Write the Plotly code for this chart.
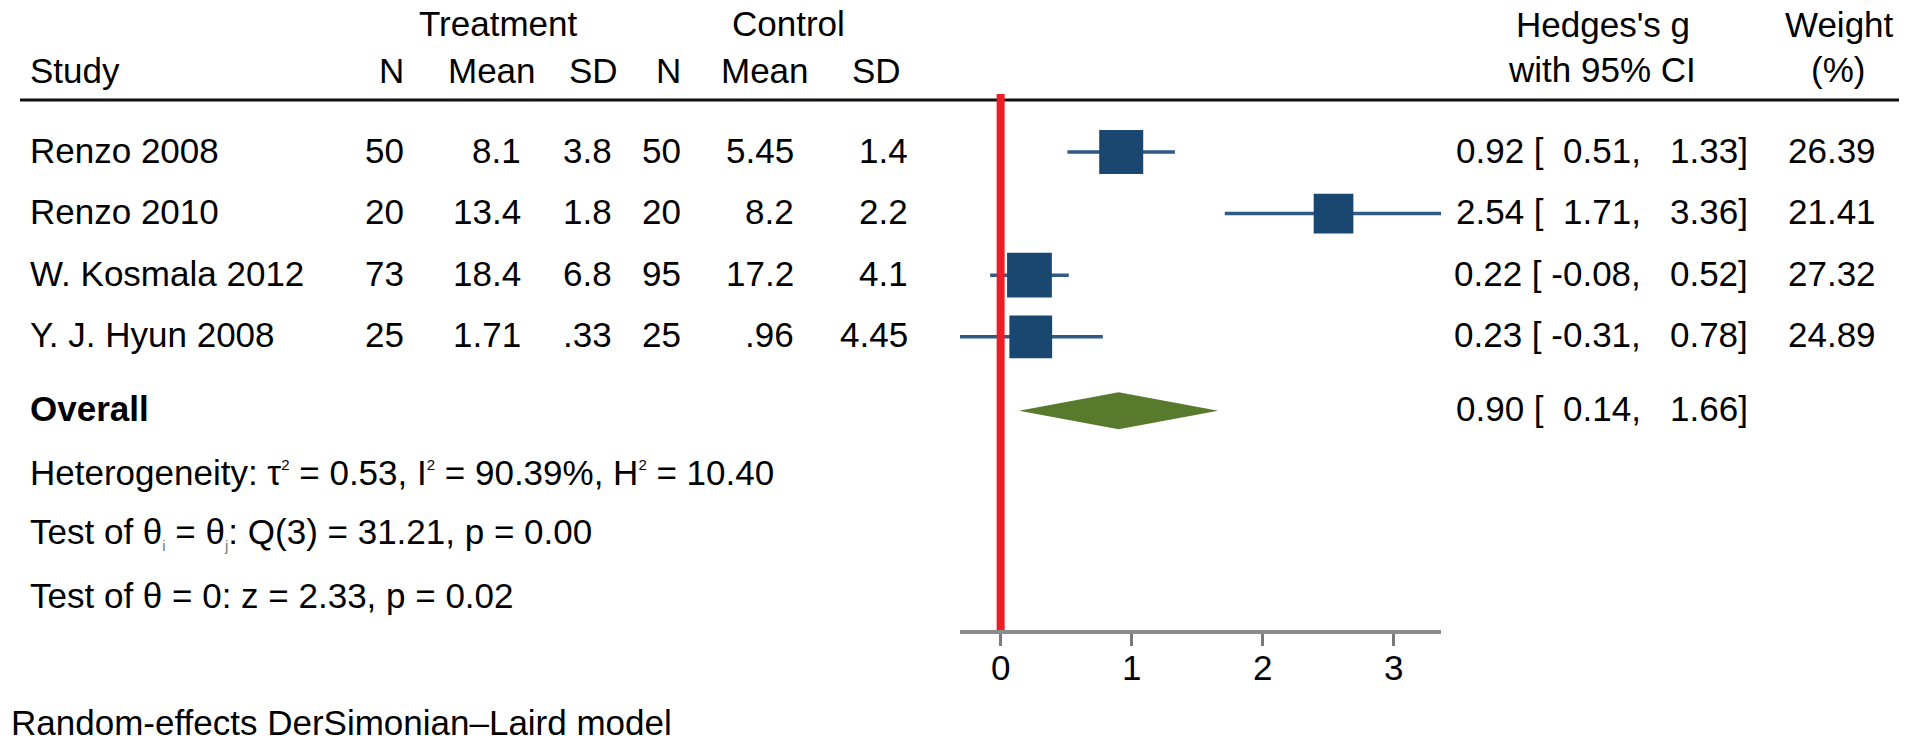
import plotly.graph_objects as go
import numpy as np

# study-level data
studies = ["Renzo 2008", "Renzo 2010", "W. Kosmala 2012", "Y. J. Hyun 2008"]
n_treat = ["50", "20", "73", "25"]
mean_treat = ["8.1", "13.4", "18.4", "1.71"]
sd_treat = ["3.8", "1.8", "6.8", ".33"]
n_ctrl = ["50", "20", "95", "25"]
mean_ctrl = ["5.45", "8.2", "17.2", ".96"]
sd_ctrl = ["1.4", "2.2", "4.1", "4.45"]
g_est = [0.92, 2.54, 0.22, 0.23]
g_lo = [0.51, 1.71, -0.08, -0.31]
g_hi = [1.33, 3.36, 0.52, 0.78]
weights = [26.39, 21.41, 27.32, 24.89]

# pooled result and heterogeneity statistics
overall_est = 0.90
overall_lo = 0.14
overall_hi = 1.66
tau2 = 0.53
i2 = 90.39
h2 = 10.40
q_df = 3
q_stat = 31.21
q_p = 0.00
z_stat = 2.33
z_p = 0.02

x_ticks = [0, 1, 2, 3]

FONT = "Liberation Sans, Arial, sans-serif"
FS = 35
TXT = "#000000"
NAVY = "#1a476f"
CI_COL = "#2f5c85"
GREEN = "#587a2c"
RED = "#ee1c25"

W, H = 1907, 736
PL, PR, PT, PB = 952, 1433, 86, 622   # plot area in pixels
ROW0, ROWH = 144, 61.6                 # pixel y of first study row, row spacing
DY = -2                                # small lift so cap centres sit on the rows


def px(x):
    # page pixel -> paper x
    return (x - PL) / (PR - PL)


def py(y):
    # page pixel -> paper y
    return (PB - y) / (PB - PT)


def row_y(r):
    # row number -> paper y
    return py(ROW0 + ROWH * r + DY)


nb = "\u00a0"
rows = list(range(len(studies)))
row_overall = 4.2
row_het = 5.23
row_qtest = 6.22
row_ztest = 7.24

fig = go.Figure()

# confidence interval lines
ci_x, ci_y = [], []
for r, lo, hi in zip(rows, g_lo, g_hi):
    ci_x += [lo, hi, None]
    ci_y += [r, r, None]
fig.add_trace(go.Scatter(x=ci_x, y=ci_y, mode="lines",
                         line=dict(color=CI_COL, width=3.5), hoverinfo="skip"))

# weight squares, area proportional to weight
sizes = 8.57 * np.sqrt(np.array(weights))
fig.add_trace(go.Scatter(x=g_est, y=rows, mode="markers",
                         marker=dict(symbol="square", size=sizes, color=NAVY,
                                     opacity=1, line=dict(width=0))))

# overall diamond
dh = 0.30
fig.add_trace(go.Scatter(x=[overall_lo, overall_est, overall_hi, overall_est, overall_lo],
                         y=[row_overall, row_overall - dh, row_overall, row_overall + dh, row_overall],
                         mode="lines", fill="toself", fillcolor=GREEN,
                         line=dict(color=GREEN, width=0)))

annotations = []


def txt(x, y, text, anchor="left", bold=False):
    # x in page pixels, y in paper units
    annotations.append(dict(xref="paper", yref="paper", x=px(x), y=y, text=text,
                            xanchor=anchor, yanchor="middle", showarrow=False,
                            font=dict(family=FONT, size=FS, color=TXT,
                                      weight="bold" if bold else "normal")))


# column headers
hy1, hy2 = py(16), py(64 + DY)
txt(490, hy1, "Treatment", "center")
txt(780, hy1, "Control", "center")
txt(20, hy2, "Study")
txt(398, hy2, "N", "right")
txt(530, hy2, "Mean", "right")
txt(612, hy2, "SD", "right")
txt(675, hy2, "N", "right")
txt(803, hy2, "Mean", "right")
txt(895, hy2, "SD", "right")
txt(1595, py(17), "Hedges's g", "center")
txt(1594, py(63 + DY), "with 95% CI", "center")
txt(1831, py(17), "Weight", "center")
txt(1830, py(63 + DY), "(%)", "center")

# study rows
for i, r in enumerate(rows):
    y = row_y(r)
    txt(20, y, studies[i])
    txt(398, y, n_treat[i], "right")
    txt(515, y, mean_treat[i], "right")
    txt(606, y, sd_treat[i], "right")
    txt(675, y, n_ctrl[i], "right")
    txt(788, y, mean_ctrl[i], "right")
    txt(902, y, sd_ctrl[i], "right")
    ci = f"{g_est[i]:.2f} [{g_lo[i]:6.2f}, {g_hi[i]:6.2f}]".replace(" ", nb)
    txt(1742, y, ci, "right")
    txt(1870, y, f"{weights[i]:.2f}", "right")

# overall row and statistics
txt(20, row_y(row_overall), "Overall", bold=True)
ci = f"{overall_est:.2f} [{overall_lo:6.2f}, {overall_hi:6.2f}]".replace(" ", nb)
txt(1742, row_y(row_overall), ci, "right")

sup2 = "<sup><span style='font-size:15px'>2</span></sup>"
txt(20, row_y(row_het), f"Heterogeneity: \u03c4{sup2} = {tau2:.2f}, I{sup2} = {i2:.2f}%, "
                        f"H{sup2} = {h2:.2f}")
sub_i = "<sub><span style='font-size:15px;color:#777'>i</span></sub>"
sub_j = "<sub><span style='font-size:15px;color:#777'>j</span></sub>"
txt(20, row_y(row_qtest),
    f"Test of \u03b8{sub_i} = \u03b8{sub_j}: Q({q_df}) = {q_stat:.2f}, p = {q_p:.2f}")
txt(20, row_y(row_ztest), f"Test of \u03b8 = 0: z = {z_stat:.2f}, p = {z_p:.2f}")

# footnote
txt(1, py(714), "Random-effects DerSimonian\u2013Laird model")

shapes = [
    # header rule
    dict(type="line", xref="paper", yref="paper", x0=px(12), x1=px(1907),
         y0=py(92), y1=py(92), line=dict(color="#111111", width=3)),
    # line of no effect
    dict(type="line", xref="x", yref="paper", x0=0, x1=0, y0=0, y1=1,
         line=dict(color=RED, width=8), layer="above"),
]

fig.update_layout(
    width=W, height=H,
    margin=dict(l=PL, r=W - PR, t=PT, b=H - PB, autoexpand=False),
    paper_bgcolor="white", plot_bgcolor="white",
    showlegend=False,
    annotations=annotations,
    shapes=shapes,
    xaxis=dict(range=[min(g_lo), max(g_hi)], showgrid=False, zeroline=False,
               showline=True, linecolor="#8c8c8c", linewidth=4,
               ticks="outside", ticklen=12, tickwidth=3, tickcolor="#7a7a7a",
               tickvals=x_ticks, ticktext=[str(t) for t in x_ticks],
               ticklabelstandoff=-8,
               tickfont=dict(family=FONT, size=FS, color=TXT), fixedrange=True),
    yaxis=dict(range=[(PB - ROW0) / ROWH, (PT - ROW0) / ROWH], visible=False,
               fixedrange=True),
)

fig.write_html("out.html", config={"displayModeBar": False})
